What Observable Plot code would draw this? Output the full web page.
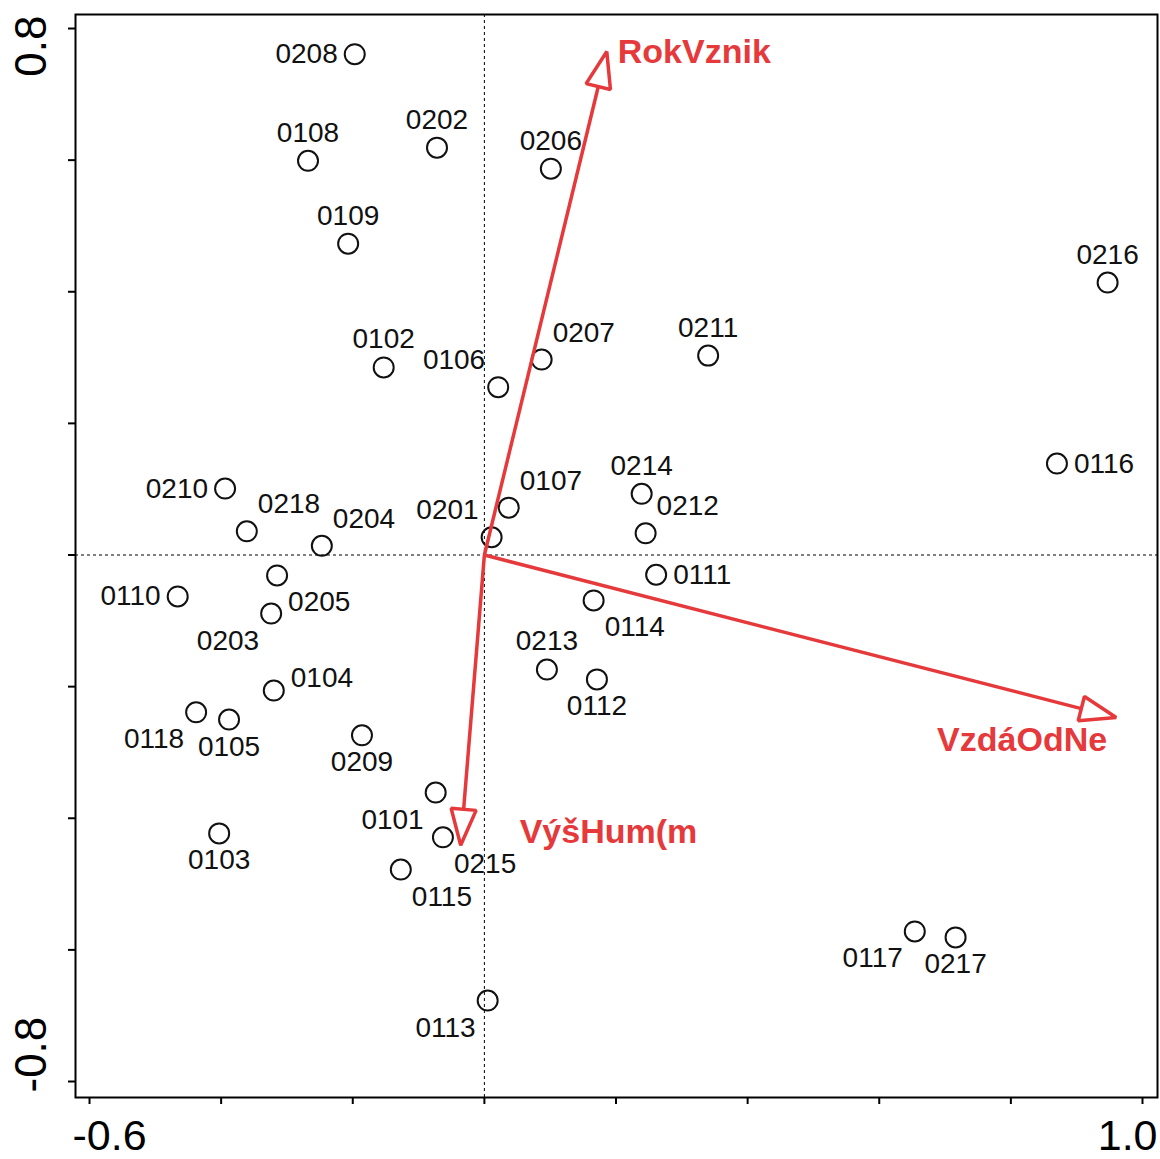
<!DOCTYPE html>
<html>
<head>
<meta charset="utf-8">
<script src="https://cdn.jsdelivr.net/npm/d3@7"></script>
<script src="https://cdn.jsdelivr.net/npm/@observablehq/plot@0.6"></script>
<style>
  html, body { margin: 0; padding: 0; background: #fff; overflow: hidden; }
  #chart svg { display: block; }
  #chart svg [aria-label^="x-axis"] path,
  #chart svg [aria-label^="y-axis"] path { stroke-width: 2; }
</style>
</head>
<body>
<div id="chart"></div>
<script>
// ---- data ----
const sites = ["0208","0108","0202","0206","0109","0216","0102","0106","0207","0211",
  "0116","0214","0107","0212","0201","0210","0218","0204","0111","0110",
  "0205","0203","0114","0213","0112","0104","0118","0105","0209","0101",
  "0215","0115","0103","0117","0217","0113"];
const siteX = [-0.197,-0.268,-0.072,0.101,-0.207,0.947,-0.153,0.021,0.087,0.340,
  0.870,0.239,0.037,0.245,0.011,-0.394,-0.361,-0.247,0.261,-0.466,
  -0.315,-0.324,0.166,0.095,0.171,-0.320,-0.438,-0.388,-0.186,-0.074,
  -0.063,-0.127,-0.403,0.654,0.716,0.005];
const siteY = [0.761,0.599,0.619,0.587,0.473,0.414,0.285,0.255,0.297,0.303,
  0.139,0.093,0.072,0.033,0.027,0.101,0.036,0.014,-0.030,-0.063,
  -0.031,-0.089,-0.069,-0.174,-0.189,-0.206,-0.239,-0.250,-0.274,-0.361,
  -0.429,-0.478,-0.423,-0.572,-0.581,-0.677];
const siteLabelSide = ["w","n","n","n","n","n","n","nw","ne","n",
  "e","n","ne","ne","nw","w","ne","ne","e","w",
  "se","sw","se","n","s","en","sw","s","s","sw",
  "se","se","s","sw","s","sw"];

const envNames = ["RokVznik","VzdáOdNe","VýšHum(m"];
const envX = [0.186, 0.960, -0.036];
const envY = [0.765, -0.247, -0.441];

const xTicks = [-0.6,-0.4,-0.2,0,0.2,0.4,0.6,0.8,1.0];
const yTicks = [-0.8,-0.6,-0.4,-0.2,0,0.2,0.4,0.6,0.8];
const xTickLabelValues = [-0.6, 1.0];
const xTickLabels = ["-0.6","1.0"];
const yTickLabelValues = [0.8, -0.8];
const yTickLabels = ["0.8","-0.8"];

// ---- layout / style ----
const W = 1160, H = 1159, mL = 75, mR = 3, mT = 14, mB = 62;
const xDom = [-0.6213, 1.0228], yDom = [-0.8243, 0.8213];
const RED = "#e5393b";
const INK = "#111";
const FONT = "'Liberation Sans', Arial, Helvetica, sans-serif";
const headLen = 36, headHalf = 12.5;

const kx = (W - mL - mR) / (xDom[1] - xDom[0]);
const ky = (H - mT - mB) / (yDom[1] - yDom[0]);

const siteData = sites.map((s, i) => ({name: s, x: siteX[i], y: siteY[i], side: siteLabelSide[i]}));
const envData = envNames.map((n, i) => ({name: n, x: envX[i], y: envY[i]}));

// arrow shafts & heads (head size given in pixels, converted via the scale factors)
const shafts = [], heads = [];
for (const a of envData) {
  const px = a.x * kx, py = -a.y * ky;
  const len = Math.hypot(px, py);
  const ux = px / len, uy = py / len;
  const bx = px - headLen * ux, by = py - headLen * uy;
  const nx = -uy, ny = ux;
  const toData = (X, Y) => ({x: X / kx, y: -Y / ky, name: a.name});
  const base = toData(bx, by);
  shafts.push({x1: 0, y1: 0, x2: base.x, y2: base.y, name: a.name});
  heads.push(toData(bx + headHalf * nx, by + headHalf * ny));
  heads.push({x: a.x, y: a.y, name: a.name});
  heads.push(toData(bx - headHalf * nx, by - headHalf * ny));
}

const sideStyle = {
  n:  {textAnchor: "middle", dx: 0,   dy: -28},
  s:  {textAnchor: "middle", dx: 0,   dy: 27},
  e:  {textAnchor: "start",  dx: 17,  dy: 0},
  w:  {textAnchor: "end",    dx: -17, dy: 0},
  en: {textAnchor: "start",  dx: 17,  dy: -13},
  ne: {textAnchor: "start",  dx: 11,  dy: -27},
  nw: {textAnchor: "end",    dx: -13, dy: -27},
  se: {textAnchor: "start",  dx: 11,  dy: 27},
  sw: {textAnchor: "end",    dx: -12, dy: 27}
};
const siteLabelMarks = Object.entries(sideStyle).map(([k, st]) =>
  Plot.text(siteData.filter(d => d.side === k), {
    x: "x", y: "y", text: "name", fill: INK, fontSize: 28, lineAnchor: "middle", ...st
  })
);

const envLabelStyle = [
  {textAnchor: "start", dx: 11, dy: 1},
  {textAnchor: "end", dx: -9, dy: 23},
  {textAnchor: "start", dx: 59, dy: -13}
];
const envLabelMarks = envData.map((d, i) =>
  Plot.text([d], {x: "x", y: "y", text: "name", fill: RED, fontSize: 34, fontWeight: "bold",
    lineAnchor: "middle", ...envLabelStyle[i]})
);

const xLab = xTickLabelValues.map((v, i) => ({v, t: xTickLabels[i]}));
const yLab = yTickLabelValues.map((v, i) => ({v, t: yTickLabels[i]}));

const chart = Plot.plot({
  width: W, height: H,
  marginLeft: mL, marginRight: mR, marginTop: mT, marginBottom: mB,
  style: {fontFamily: FONT, background: "#fff", color: "#000"},
  x: {domain: xDom, ticks: xTicks, tickSize: 7, tickFormat: () => "", label: null},
  y: {domain: yDom, ticks: yTicks, tickSize: 7, tickFormat: () => "", label: null},
  marks: [
    Plot.ruleX([0], {stroke: "#000", strokeWidth: 1, strokeDasharray: "3,3"}),
    Plot.ruleY([0], {stroke: "#000", strokeWidth: 1, strokeDasharray: "3,3"}),
    Plot.frame({stroke: "#000", strokeWidth: 2}),
    Plot.dot(siteData, {x: "x", y: "y", r: 10, stroke: INK, strokeWidth: 2, fill: "none"}),
    ...siteLabelMarks,
    Plot.link(shafts, {x1: "x1", y1: "y1", x2: "x2", y2: "y2", stroke: RED, strokeWidth: 3.5}),
    Plot.line(heads, {x: "x", y: "y", z: "name", curve: "linear-closed", stroke: RED,
      strokeWidth: 3.5, strokeLinejoin: "miter", fill: "none"}),
    ...envLabelMarks,
    // tick labels kept inside the frame extent
    Plot.text([xLab[0]], {x: "v", text: "t", frameAnchor: "bottom", textAnchor: "start",
      lineAnchor: "middle", dx: -17, dy: 39, fontSize: 43, fill: "#000"}),
    Plot.text([xLab[1]], {x: "v", text: "t", frameAnchor: "bottom", textAnchor: "end",
      lineAnchor: "middle", dx: 15, dy: 39, fontSize: 43, fill: "#000"}),
    Plot.text([yLab[0]], {y: "v", text: "t", frameAnchor: "left", rotate: -90, textAnchor: "end",
      lineAnchor: "middle", dx: -44, dy: -13, fontSize: 44, fill: "#000"}),
    Plot.text([yLab[1]], {y: "v", text: "t", frameAnchor: "left", rotate: -90, textAnchor: "start",
      lineAnchor: "middle", dx: -44, dy: 11, fontSize: 44, fill: "#000"})
  ]
});
document.getElementById("chart").appendChild(chart);
</script>
</body>
</html>
